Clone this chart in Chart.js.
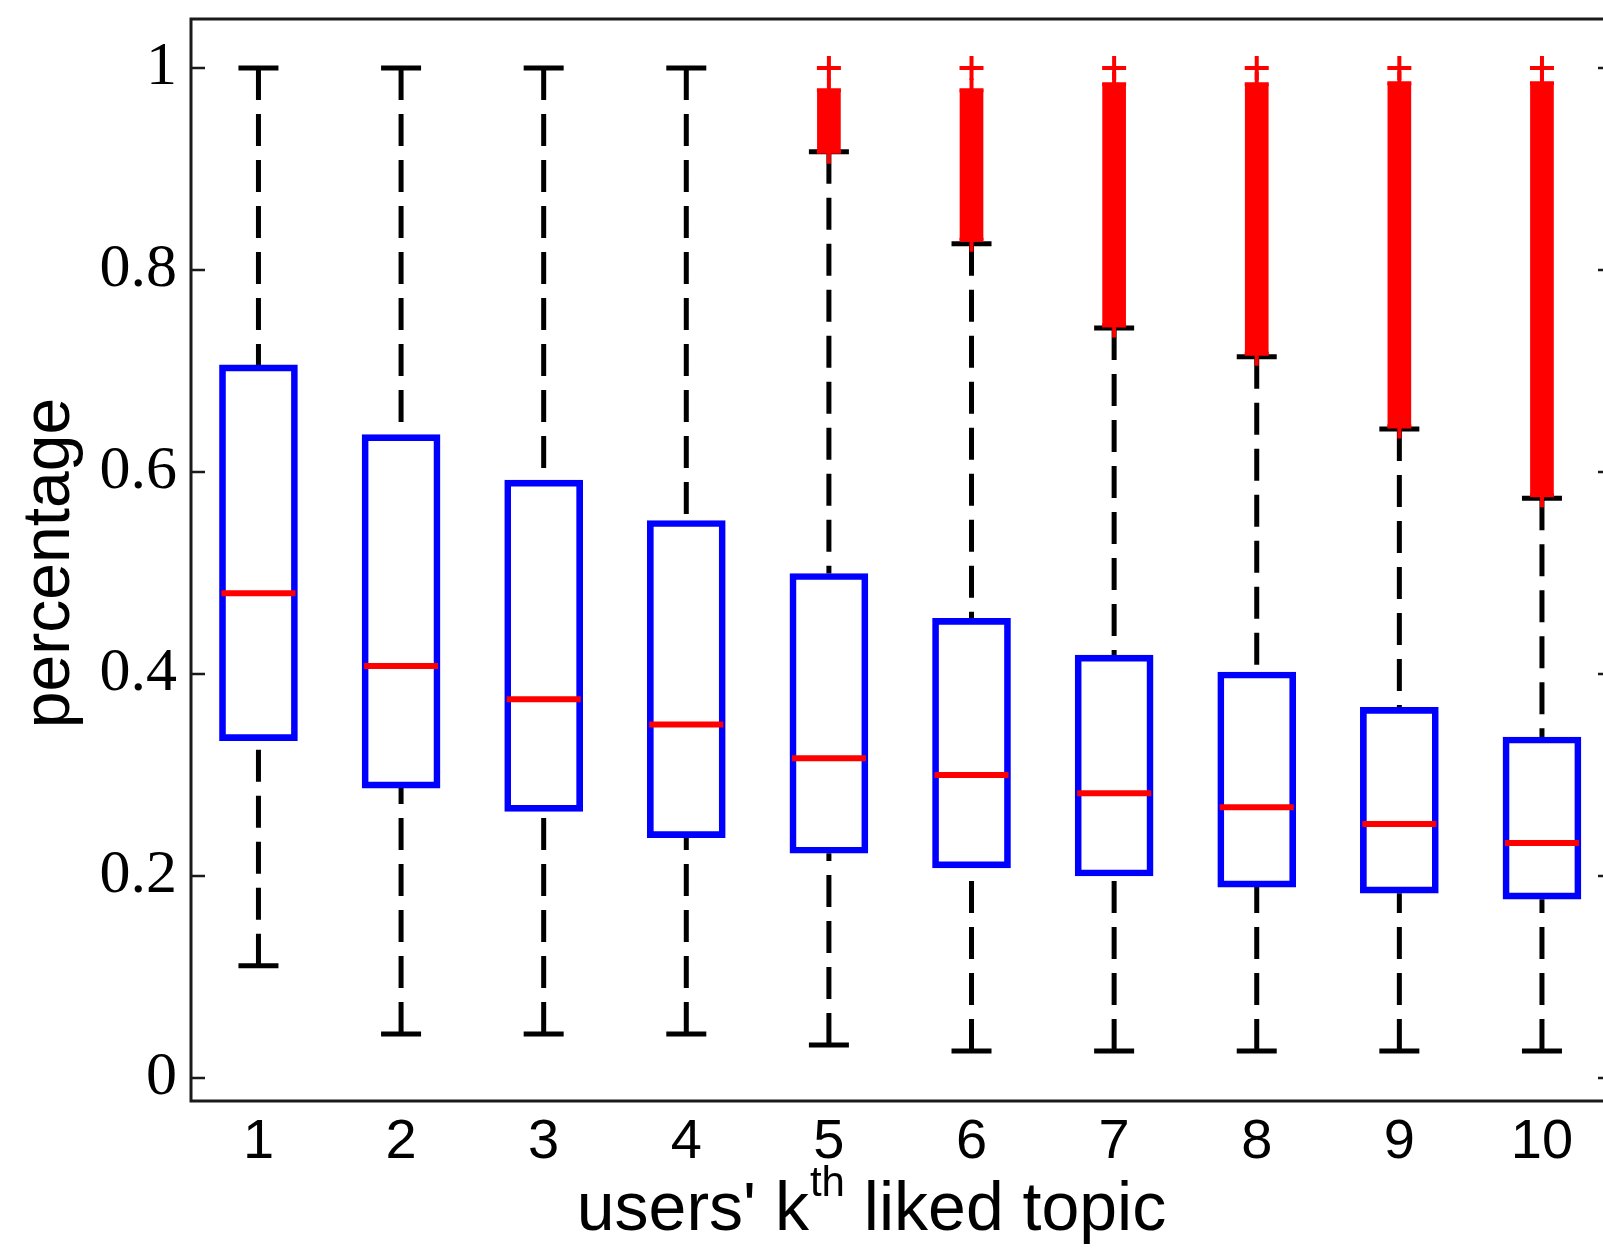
<!DOCTYPE html>
<html lang="en">
<head>
  <meta charset="UTF-8" />
  <title>users' kth liked topic - boxplot</title>
  <script src="https://cdn.jsdelivr.net/npm/chart.js"></script>
  <style>
    html, body { margin: 0; padding: 0; background: #fff; overflow: hidden; }
    #wrap { width: 1603px; height: 1248px; }
  </style>
</head>
<body>
  <div id="wrap"><canvas id="boxChart" width="1603" height="1248"></canvas></div>

  <script>
    // values
    const categories = [1, 2, 3, 4, 5, 6, 7, 8, 9, 10];
    const q1 = [0.334, 0.287, 0.264, 0.238, 0.2225, 0.208, 0.200, 0.189, 0.183, 0.177];
    const medians = [0.480, 0.408, 0.375, 0.350, 0.3165, 0.300, 0.282, 0.268, 0.2515, 0.2327];
    const q3 = [0.706, 0.637, 0.592, 0.552, 0.4995, 0.455, 0.4186, 0.402, 0.367, 0.3376];
    const whiskerLow = [0.111, 0.0436, 0.0436, 0.0436, 0.0327, 0.0267, 0.0267, 0.0267, 0.0267, 0.0267];
    const whiskerHigh = [1, 1, 1, 1, 0.917, 0.826, 0.7426, 0.714, 0.6426, 0.574];
    const outlierBandLow = [null, null, null, null, 0.917, 0.830, 0.745, 0.717, 0.645, 0.577];
    const outlierBandHigh = [null, null, null, null, 0.978, 0.978, 0.984, 0.984, 0.985, 0.985];
    const outlierMax = [null, null, null, null, 1, 1, 1, 1, 1, 1];
    const yTickValues = [0, 0.2, 0.4, 0.6, 0.8, 1];
    const yTickLabels = ['0', '0.2', '0.4', '0.6', '0.8', '1'];

    const BLUE = '#0000ff';
    const RED = '#ff0000';
    const BLACK = '#000000';

    // whiskers: one line dataset, gaps (null) split it into segments
    const whiskerPts = [];
    categories.forEach((c, i) => {
      whiskerPts.push({ x: c, y: whiskerHigh[i] }, { x: c, y: q3[i] }, { x: c, y: null });
      whiskerPts.push({ x: c, y: whiskerLow[i] }, { x: c, y: q1[i] }, { x: c, y: null });
    });

    const capPts = [];
    categories.forEach((c, i) => {
      capPts.push({ x: c, y: whiskerHigh[i] }, { x: c, y: whiskerLow[i] });
    });

    const outlierPts = [];
    const bandPts = [];
    categories.forEach((c, i) => {
      if (outlierMax[i] === null) return;
      outlierPts.push({ x: c, y: outlierMax[i] }, { x: c, y: outlierBandHigh[i] }, { x: c, y: outlierBandLow[i] });
      bandPts.push({ x: c, y: [outlierBandLow[i], outlierBandHigh[i]] });
    });

    // no automatic label padding, the plot box is placed by hand
    const noPad = s => { s.paddingTop = 0; s.paddingBottom = 0; s.paddingLeft = 0; s.paddingRight = 0; };

    // frame, inward ticks and axis titles (x title has a superscript)
    const framePlugin = {
      id: 'frame',
      afterDraw(chart) {
        const { ctx, chartArea: a, scales } = chart;
        const y = scales.y;
        ctx.save();
        ctx.strokeStyle = '#1a1a1a';
        ctx.lineWidth = 3;
        ctx.beginPath();
        ctx.moveTo(a.right + 2, a.top);
        ctx.lineTo(a.left, a.top);
        ctx.lineTo(a.left, a.bottom);
        ctx.lineTo(a.right + 2, a.bottom);
        ctx.stroke();

        ctx.lineWidth = 2.5;
        yTickValues.forEach(v => {
          const py = y.getPixelForValue(v);
          ctx.beginPath();
          ctx.moveTo(a.left, py);
          ctx.lineTo(a.left + 14, py);
          ctx.moveTo(a.right - 5, py);
          ctx.lineTo(a.right, py);
          ctx.stroke();
        });

        ctx.fillStyle = BLACK;
        // y title
        ctx.save();
        ctx.translate(51, (a.top + a.bottom) / 2 + 3);
        ctx.rotate(-Math.PI / 2);
        ctx.textAlign = 'center';
        ctx.textBaseline = 'middle';
        ctx.font = '66px "Liberation Sans", Arial, sans-serif';
        ctx.fillText('percentage', 0, 0);
        ctx.restore();

        // x title
        const big = '68px "Liberation Sans", Arial, sans-serif';
        const small = '42px "Liberation Sans", Arial, sans-serif';
        const p1 = "users' k", p2 = 'th', p3 = ' liked topic';
        ctx.font = big;
        const w1 = ctx.measureText(p1).width, w3 = ctx.measureText(p3).width;
        ctx.font = small;
        const w2 = ctx.measureText(p2).width;
        let tx = a.left + 680 - (w1 + w2 + w3) / 2;
        const base = 1230;
        ctx.textAlign = 'left';
        ctx.textBaseline = 'alphabetic';
        ctx.font = big;
        ctx.fillText(p1, tx, base);
        tx += w1 + 1;
        ctx.font = small;
        ctx.fillText(p2, tx, base - 34);
        tx += w2;
        ctx.font = big;
        ctx.fillText(p3, tx, base);
        ctx.restore();
      }
    };

    new Chart(document.getElementById('boxChart'), {
      type: 'bar',
      data: {
        datasets: [
          {
            type: 'line',
            label: 'whiskers',
            data: whiskerPts,
            borderColor: BLACK,
            borderWidth: 5,
            borderDash: [32, 14],
            pointRadius: 0,
            spanGaps: false,
            order: 6
          },
          {
            type: 'line',
            label: 'caps',
            data: capPts,
            showLine: false,
            pointStyle: 'line',
            pointRadius: 20,
            pointBorderWidth: 5,
            pointBorderColor: BLACK,
            order: 5
          },
          {
            type: 'bar',
            label: 'boxes',
            data: categories.map((c, i) => ({ x: c, y: [q1[i], q3[i]] })),
            backgroundColor: 'rgba(0,0,0,0)',
            borderColor: BLUE,
            borderWidth: 6,
            borderSkipped: false,
            barThickness: 78,
            grouped: false,
            order: 4
          },
          {
            type: 'bar',
            label: 'outlier band',
            data: bandPts,
            backgroundColor: RED,
            borderWidth: 0,
            barThickness: 23,
            grouped: false,
            order: 3
          },
          {
            type: 'line',
            label: 'outliers',
            data: outlierPts,
            showLine: false,
            pointStyle: 'cross',
            pointRadius: 12,
            pointBorderWidth: 4,
            pointBorderColor: RED,
            order: 2
          },
          {
            type: 'line',
            label: 'median',
            data: categories.map((c, i) => ({ x: c, y: medians[i] })),
            showLine: false,
            pointStyle: 'line',
            pointRadius: 37,
            pointBorderWidth: 6,
            pointBorderColor: RED,
            order: 1
          }
        ]
      },
      options: {
        responsive: false,
        animation: false,
        layout: { autoPadding: false, padding: { top: 19, right: 0, left: 0, bottom: 0 } },
        plugins: {
          legend: { display: false },
          tooltip: { enabled: false }
        },
        scales: {
          x: {
            type: 'linear',
            min: 0.527,
            max: 10.428,
            offset: false,
            grid: { display: false },
            border: { display: false },
            afterBuildTicks: s => { s.ticks = categories.map(v => ({ value: v })); },
            afterFit: s => { s.height = 147; noPad(s); },
            ticks: {
              padding: 0,
              color: BLACK,
              maxRotation: 0,
              font: { family: '"Liberation Sans", Arial, sans-serif', size: 56 },
              callback: v => String(v)
            }
          },
          y: {
            type: 'linear',
            min: -0.0228,
            max: 1.0485,
            grid: { display: false },
            border: { display: false },
            afterBuildTicks: s => { s.ticks = yTickValues.map(v => ({ value: v })); },
            afterFit: s => { s.width = 191; noPad(s); },
            ticks: {
              padding: 6,
              color: BLACK,
              font: { family: '"Liberation Serif", "Times New Roman", serif', size: 62 },
              callback: v => yTickLabels[yTickValues.indexOf(v)]
            }
          }
        }
      },
      plugins: [framePlugin]
    });
  </script>
</body>
</html>
